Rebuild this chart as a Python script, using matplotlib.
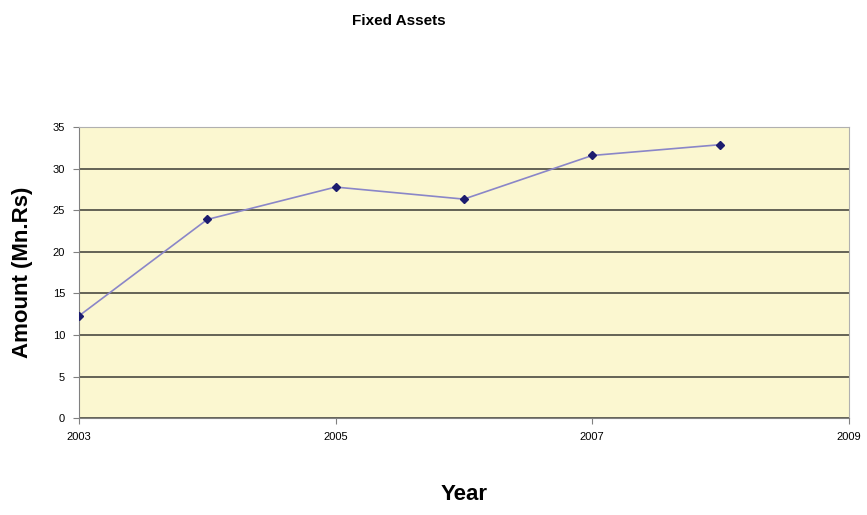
import matplotlib
matplotlib.use("Agg")
import matplotlib.pyplot as plt

years = [2003, 2004, 2005, 2006, 2007, 2008]
amount = [12.3, 23.9, 27.8, 26.35, 31.6, 32.9]
xticks = [2003, 2005, 2007, 2009]
yticks = [0, 5, 10, 15, 20, 25, 30, 35]

plt.rcParams['font.family'] = ['Liberation Sans Narrow', 'Liberation Sans', 'DejaVu Sans']

fig = plt.figure(figsize=(8.67, 5.15), dpi=100)
ax = fig.add_axes([0.091, 0.188, 0.888, 0.565])
ax.set_facecolor("#fbf7d0")

ax.plot(years, amount, color="#8a86c8", lw=1.2, marker="D", markersize=4,
        markerfacecolor="#1c1c6e", markeredgecolor="#1c1c6e", zorder=3)

ax.set_xlim(2003, 2009)
ax.set_ylim(0, 35)
ax.set_xticks(xticks)
ax.set_yticks(yticks)
ax.yaxis.grid(True, color="#4a4a40", lw=1.2)
ax.set_axisbelow(True)

for s in ["left", "bottom"]:
    ax.spines[s].set_color("#808080")
for s in ["right", "top"]:
    ax.spines[s].set_color("#b0b0b0")
ax.tick_params(labelsize=8, length=4, color="#808080", direction="out", pad=6)

fig.text(0.46, 0.96, "Fixed Assets", ha="center", va="center", fontsize=11, fontweight="bold",
         family=['Liberation Sans', 'DejaVu Sans'])
ax.set_xlabel("Year", fontsize=16, fontweight="bold", labelpad=30, family=['Liberation Sans', 'DejaVu Sans'])
ax.set_ylabel("Amount (Mn.Rs)", fontsize=16, fontweight="bold", labelpad=14, family=['Liberation Sans', 'DejaVu Sans'])

fig.savefig("out.png", dpi=100)
